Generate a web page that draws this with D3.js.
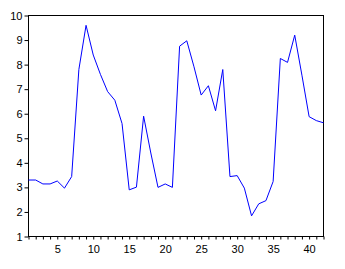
<!DOCTYPE html>
<html><head><meta charset="utf-8">
<script src="https://cdn.jsdelivr.net/npm/d3@7"></script>
<style>body{margin:0;background:#fff}svg{display:block}</style>
</head><body>
<svg id="c" width="345" height="269"></svg>
<script>
const xValues = d3.range(1, 43);
const seriesValues = [3.30,3.30,3.14,3.14,3.26,2.97,3.44,7.80,9.60,8.39,
  7.60,6.90,6.55,5.60,2.90,3.01,5.90,4.40,3.00,3.14,
  3.00,8.75,8.97,7.91,6.76,7.14,6.12,7.80,3.44,3.48,
  2.97,1.84,2.33,2.46,3.24,8.25,8.09,9.20,7.57,5.88,
  5.72,5.63];
const yTicks = [1,2,3,4,5,6,7,8,9,10];
const xLabelTicks = [5,10,15,20,25,30,35,40];

const svg = d3.select('#c');
const L = 28.5, R = 323.5, T = 15.5, B = 236.5;
const x = d3.scaleLinear().domain([1, 42]).range([L, R]);
const y = d3.scaleLinear().domain([1, 10]).range([B, T]);

const font = 'Liberation Sans, Arial, sans-serif';

// frame
svg.append('rect').attr('x', L).attr('y', T).attr('width', R - L).attr('height', B - T)
  .attr('fill', 'none').attr('stroke', '#000').attr('stroke-width', 1);

// y axis
const yAxis = svg.append('g').attr('transform', `translate(${L},0)`)
  .call(d3.axisLeft(y).tickValues(yTicks).tickSize(4).tickPadding(2).tickFormat(d3.format('d')));
yAxis.select('.domain').remove();
yAxis.selectAll('text').attr('font-family', font).attr('font-size', 11).attr('fill', '#000');

// x axis minor ticks
const xAxis = svg.append('g').attr('transform', `translate(0,${B})`)
  .call(d3.axisBottom(x).tickValues(xValues).tickSize(3).tickFormat(d => xLabelTicks.includes(d) ? d : ''));
xAxis.select('.domain').remove();
xAxis.selectAll('text').attr('font-family', font).attr('font-size', 11).attr('fill', '#000').attr('dy', '0.95em');

// line
const line = d3.line().x((d, i) => x(xValues[i])).y(d => y(d));
svg.append('path').datum(seriesValues).attr('d', line)
  .attr('fill', 'none').attr('stroke', '#0000ff').attr('stroke-width', 1);
</script>
</body></html>
